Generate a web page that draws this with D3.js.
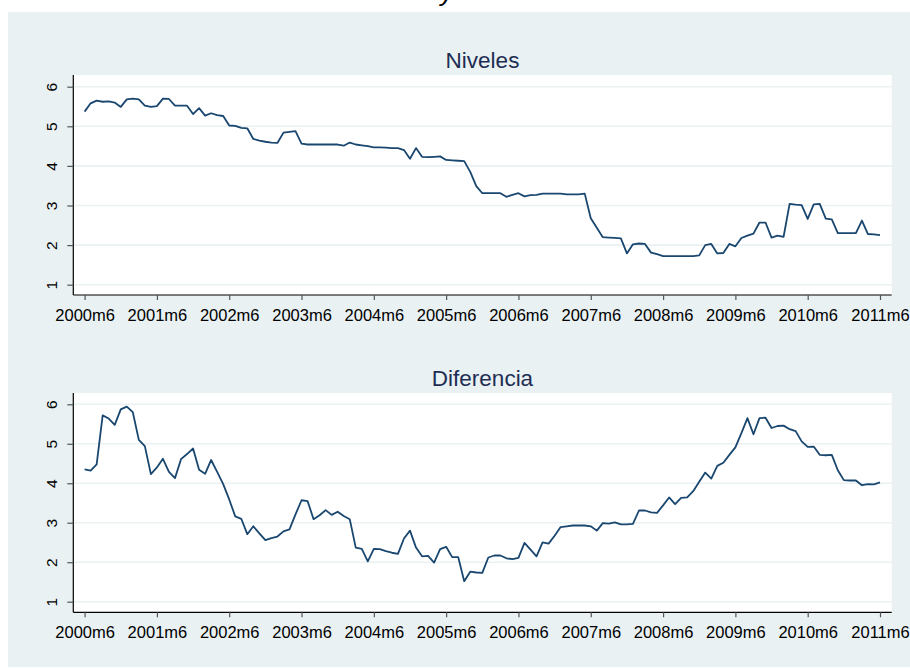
<!DOCTYPE html>
<html>
<head>
<meta charset="utf-8">
<script src="https://cdn.jsdelivr.net/npm/d3@7"></script>
<style>
  html, body { margin: 0; padding: 0; background: #ffffff; }
  svg { display: block; }
  text { font-family: "Liberation Sans", Arial, Helvetica, sans-serif; }
</style>
</head>
<body>
<svg id="chart" width="910" height="668"></svg>
<script>
// ---------- data ----------
const tickLabels = ["2000m6","2001m6","2002m6","2003m6","2004m6","2005m6","2006m6","2007m6","2008m6","2009m6","2010m6","2011m6"];
const yTicks = [1, 2, 3, 4, 5, 6];
const panelTitles = ["Niveles", "Diferencia"];

const niveles = [
  5.37,5.58,5.65,5.62,5.63,5.60,5.49,5.68,5.70,5.68,5.52,5.49,
  5.51,5.70,5.69,5.52,5.52,5.52,5.31,5.46,5.27,5.33,5.28,5.26,
  5.02,5.01,4.96,4.95,4.68,4.64,4.61,4.59,4.58,4.84,4.86,4.88,
  4.56,4.54,4.54,4.54,4.54,4.54,4.54,4.51,4.59,4.54,4.52,4.50,
  4.47,4.47,4.46,4.45,4.45,4.40,4.18,4.45,4.23,4.22,4.23,4.24,
  4.15,4.14,4.13,4.12,3.85,3.49,3.31,3.31,3.31,3.31,3.22,3.27,
  3.31,3.23,3.26,3.27,3.30,3.30,3.30,3.30,3.28,3.28,3.28,3.30,
  2.68,2.44,2.20,2.19,2.18,2.17,1.79,2.02,2.04,2.03,1.81,1.77,
  1.72,1.72,1.72,1.72,1.72,1.72,1.74,2.00,2.03,1.79,1.80,2.03,
  1.97,2.18,2.24,2.29,2.57,2.57,2.19,2.24,2.21,3.04,3.02,3.01,
  2.66,3.03,3.04,2.67,2.65,2.30,2.30,2.30,2.30,2.62,2.28,2.27,
  2.25
];

const diferencia = [
  4.35,4.32,4.48,5.72,5.64,5.48,5.87,5.94,5.80,5.10,4.94,4.23,
  4.40,4.62,4.29,4.13,4.61,4.74,4.88,4.34,4.24,4.59,4.29,3.98,
  3.59,3.16,3.10,2.71,2.91,2.73,2.56,2.61,2.65,2.78,2.83,3.21,
  3.57,3.55,3.09,3.19,3.32,3.20,3.28,3.17,3.09,2.37,2.34,2.02,
  2.34,2.33,2.28,2.24,2.21,2.60,2.80,2.37,2.15,2.16,1.99,2.33,
  2.39,2.13,2.13,1.52,1.76,1.74,1.73,2.12,2.17,2.17,2.10,2.08,
  2.11,2.49,2.32,2.15,2.50,2.47,2.67,2.89,2.91,2.93,2.93,2.93,
  2.91,2.80,2.99,2.98,3.01,2.96,2.96,2.97,3.31,3.31,3.26,3.25,
  3.44,3.64,3.47,3.63,3.64,3.80,4.04,4.27,4.12,4.44,4.52,4.72,
  4.91,5.27,5.65,5.24,5.65,5.66,5.40,5.45,5.46,5.37,5.32,5.06,
  4.92,4.93,4.72,4.71,4.72,4.33,4.08,4.07,4.07,3.95,3.98,3.97,
  4.02
];

const seriesList = [niveles, diferencia];

// ---------- layout ----------
const svg = d3.select("#chart");
const W = 910, H = 668;

// graph region background
svg.append("rect").attr("x", 8).attr("y", 12).attr("width", W - 8).attr("height", 655)
  .attr("fill", "#e9f1f3");

// partially visible overall title (only its descender shows, as in the reference)
svg.append("text").attr("x", 447).attr("y", 1).attr("text-anchor", "middle")
  .attr("font-size", 26).attr("font-style", "italic").attr("fill", "#000").text("y");

const panels = [
  { top: 75,  bottom: 295,   y6: 86.7,  y1: 284.7 },
  { top: 393, bottom: 612.3, y6: 404.3, y1: 601.7 }
];
const plotLeft = 73.3, plotRight = 891.7;
const x = d3.scaleLinear().domain([0, 132]).range([84.6, 880]);
const lineColor = "#1a476f";

panels.forEach((p, k) => {
  const g = svg.append("g");
  const y = d3.scaleLinear().domain([1, 6]).range([p.y1, p.y6]);

  // plot region
  g.append("rect").attr("x", plotLeft).attr("y", p.top)
    .attr("width", plotRight - plotLeft).attr("height", p.bottom - p.top).attr("fill", "#ffffff");

  // gridlines
  g.selectAll("line.grid").data(yTicks).enter().append("line")
    .attr("x1", plotLeft).attr("x2", plotRight)
    .attr("y1", d => y(d)).attr("y2", d => y(d))
    .attr("stroke", "#e9f1f3").attr("stroke-width", 1.6);

  // title
  g.append("text").attr("x", (plotLeft + plotRight) / 2).attr("y", p.top - 7)
    .attr("text-anchor", "middle").attr("font-size", 22.5).attr("fill", "#1e2d53")
    .text(panelTitles[k]);

  // y axis
  const yAxis = d3.axisLeft(y).tickValues(yTicks).tickSize(6).tickPadding(3).tickFormat(d3.format("d"));
  const ya = g.append("g").attr("transform", `translate(${plotLeft},0)`).call(yAxis);
  ya.select(".domain").attr("stroke", "#000").attr("stroke-width", 1.2)
    .attr("d", `M0,${p.top}V${p.bottom}`);
  ya.selectAll(".tick line").attr("stroke", "#555").attr("stroke-width", 1.2);
  ya.selectAll(".tick text")
    .attr("font-size", 15.5).attr("fill", "#000")
    .attr("x", null).attr("dy", null)
    .attr("text-anchor", "middle")
    .attr("transform", "translate(-16,0) rotate(-90)")
    .attr("y", 0).attr("dy", "0");

  // x axis
  const xAxis = d3.axisBottom(x).tickValues(d3.range(0, 133, 12)).tickSize(5).tickPadding(9)
    .tickFormat((d, i) => tickLabels[i]);
  const xa = g.append("g").attr("transform", `translate(0,${p.bottom})`).call(xAxis);
  xa.select(".domain").attr("stroke", "#000").attr("stroke-width", 1.2)
    .attr("d", `M${plotLeft},0H${plotRight}`);
  xa.selectAll(".tick line").attr("stroke", "#555").attr("stroke-width", 1.2);
  xa.selectAll(".tick text").attr("font-size", 16.5).attr("fill", "#000");

  // line
  const line = d3.line().x((d, i) => x(i)).y(d => y(d));
  g.append("path").datum(seriesList[k]).attr("d", line)
    .attr("fill", "none").attr("stroke", lineColor).attr("stroke-width", 1.8)
    .attr("stroke-linejoin", "round");
});
</script>
</body>
</html>
